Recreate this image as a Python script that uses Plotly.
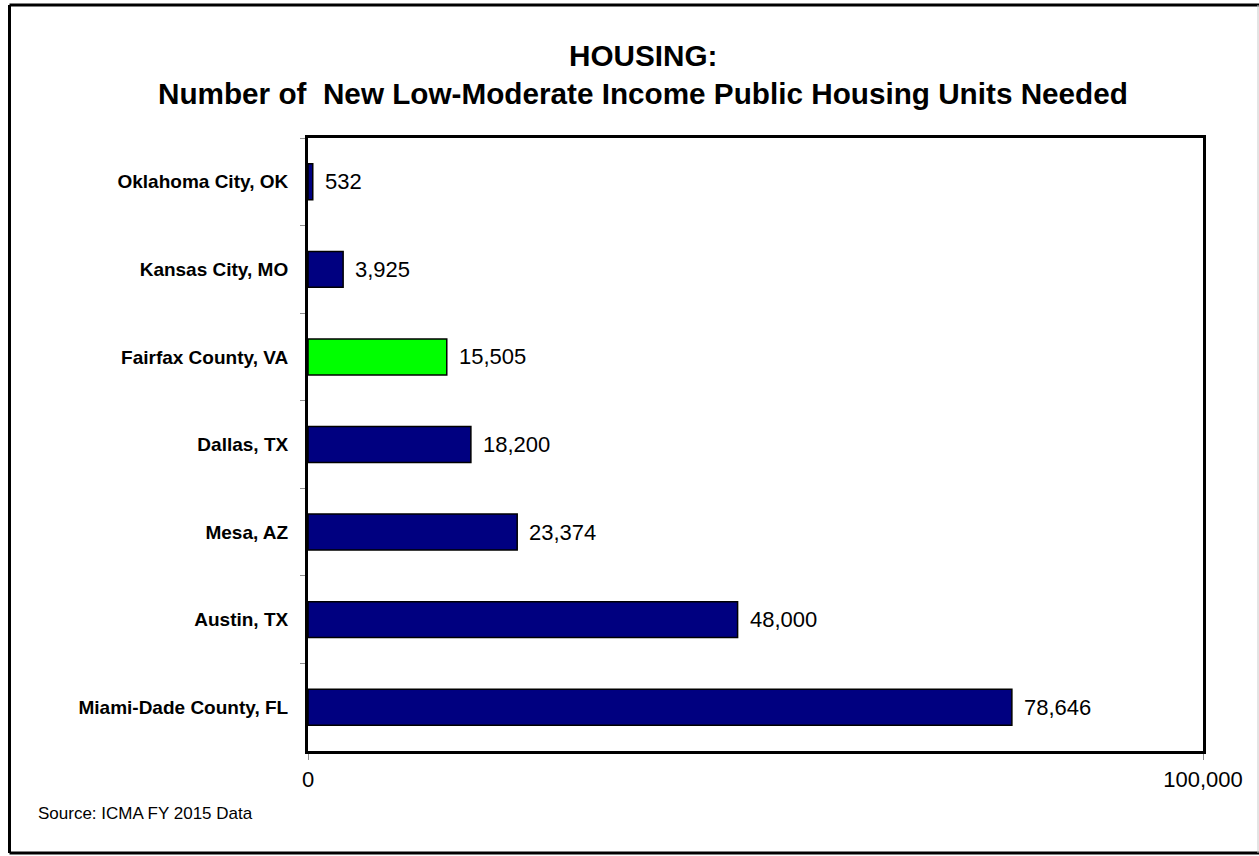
import plotly.graph_objects as go

categories = ["Oklahoma City, OK", "Kansas City, MO", "Fairfax County, VA", "Dallas, TX",
              "Mesa, AZ", "Austin, TX", "Miami-Dade County, FL"]
values = [532, 3925, 15505, 18200, 23374, 48000, 78646]
value_labels = ["532", "3,925", "15,505", "18,200", "23,374", "48,000", "78,646"]
bar_colors = ["#000080", "#000080", "#00FF00", "#000080", "#000080", "#000080", "#000080"]
x_tickvals = [0, 100000]
x_ticktext = ["0", "100,000"]

W, H = 1259, 856
L, R, T, B = 308, 1203, 138, 751
pw, ph = R - L, B - T


def px(x):
    return (x - L) / pw


def py(y):
    return (B - y) / ph


FONT = "Liberation Sans, Arial, sans-serif"

fig = go.Figure()
fig.add_trace(go.Bar(
    y=categories, x=values, orientation="h",
    marker=dict(color=bar_colors, line=dict(color="black", width=1.5)),
    width=0.41, hoverinfo="x+y",
))

annotations = []
for c, v, t in zip(categories, values, value_labels):
    annotations.append(dict(x=v, y=c, xref="x", yref="y", text=t, showarrow=False,
                            xanchor="left", yanchor="middle", xshift=10,
                            font=dict(family=FONT, size=22, color="black")))

annotations.append(dict(x=px(643), y=py(56), xref="paper", yref="paper", text="HOUSING:",
                        showarrow=False, xanchor="center", yanchor="middle",
                        font=dict(family=FONT, size=29.7, color="black", weight="bold")))
annotations.append(dict(x=px(643), y=py(94), xref="paper", yref="paper",
                        text="Number of\u00a0 New Low-Moderate Income Public Housing Units Needed",
                        showarrow=False, xanchor="center", yanchor="middle",
                        font=dict(family=FONT, size=29.7, color="black", weight="bold")))
annotations.append(dict(x=px(36), y=py(813), xref="paper", yref="paper",
                        text="Source: ICMA FY 2015 Data", showarrow=False,
                        xanchor="left", yanchor="middle",
                        font=dict(family=FONT, size=17, color="black")))

shapes = [
    dict(type="line", xref="paper", yref="paper", x0=px(9.5), x1=px(1262), y0=py(5), y1=py(5),
         line=dict(color="black", width=3)),
    dict(type="line", xref="paper", yref="paper", x0=px(9.5), x1=px(9.5), y0=py(5), y1=py(853),
         line=dict(color="black", width=3)),
    dict(type="line", xref="paper", yref="paper", x0=px(9.5), x1=px(1262), y0=py(853), y1=py(853),
         line=dict(color="black", width=3)),
    dict(type="line", xref="paper", yref="paper", x0=px(1258), x1=px(1258), y0=py(5), y1=py(853),
         line=dict(color="#c8c8c8", width=1)),
]

fig.update_layout(
    width=W, height=H,
    margin=dict(l=L, r=W - R, t=T, b=H - B, pad=0),
    paper_bgcolor="white", plot_bgcolor="white",
    showlegend=False,
    annotations=annotations,
    shapes=shapes,
    xaxis=dict(range=[0, 100000], tickvals=x_tickvals, ticktext=x_ticktext,
               showgrid=False, zeroline=False, showline=True, linecolor="black", linewidth=3,
               mirror=True, ticks="outside", ticklen=6, tickcolor="#909090", tickwidth=1,
               ticklabelstandoff=1,
               tickfont=dict(family=FONT, size=22, color="black")),
    yaxis=dict(autorange="reversed", showgrid=False, zeroline=False, showline=True,
               linecolor="black", linewidth=3, mirror=True, ticks="outside", ticklen=5,
               tickcolor="#909090", tickwidth=1, tickson="boundaries",
               ticklabelstandoff=13,
               tickfont=dict(family=FONT, size=19, color="black", weight="bold")),
)

fig.write_html("out.html", config={"displayModeBar": False},
               post_script="document.body.style.margin='0';document.body.style.overflow='hidden';")
